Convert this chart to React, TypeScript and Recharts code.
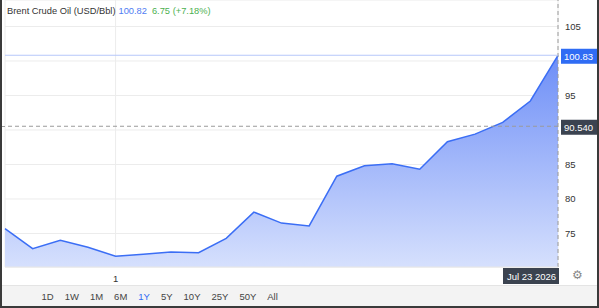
import { AreaChart, Area, XAxis, YAxis, CartesianGrid, ReferenceLine } from 'recharts';

// roughly two-week spacing, last point is the quote date
const dates = [
  'Nov 12 2025', 'Nov 25 2025', 'Dec 7 2025', 'Dec 20 2025', 'Jan 1 2026',
  'Jan 14 2026', 'Jan 27 2026', 'Feb 8 2026', 'Feb 21 2026', 'Mar 6 2026',
  'Mar 19 2026', 'Mar 31 2026', 'Apr 13 2026', 'Apr 26 2026', 'May 8 2026',
  'May 21 2026', 'Jun 3 2026', 'Jun 15 2026', 'Jun 28 2026', 'Jul 11 2026',
  'Jul 23 2026',
];
const prices = [
  75.7, 72.8, 74.0, 73.0, 71.7, 72.0, 72.3, 72.2, 74.3, 78.1,
  76.5, 76.1, 83.3, 84.8, 85.1, 84.3, 88.3, 89.4, 91.1, 94.2,
  100.83,
];
const yTicks = [75, 80, 85, 90, 95, 100, 105];
const xTicks = ['Jan 1 2026'];
const ranges = ['1D', '1W', '1M', '6M', '1Y', '5Y', '10Y', '25Y', '50Y', 'All'];
const activeRange = '1Y';

const title = 'Brent Crude Oil (USD/Bbl)';
const quote = 100.82;
const change = 6.75;
const changePct = 7.18;
const lastPrice = 100.83;
const prevClose = 90.54;
const lastDate = 'Jul 23 2026';

const data = dates.map((d, i) => ({ date: d, price: prices[i] }));

const FONT = '"Liberation Sans", Arial, sans-serif';

// tick labels sitting under a price badge are hidden, like the original widget
function YTick({ x, y, payload }: any) {
  const v = payload.value;
  if (Math.abs(v - lastPrice) < 3 || Math.abs(v - prevClose) < 3) return null;
  return (
    <text x={x} y={y + 3.5} fontSize={9.5} fill="#333" fontFamily={FONT} textAnchor="start">
      {v}
    </text>
  );
}

function PriceBadge({ viewBox, text, fill }: any) {
  const { x, y, width } = viewBox;
  return (
    <g>
      <rect x={x + width + 3} y={y - 6.5} width={37} height={15} fill={fill} />
      <text x={x + width + 6} y={y + 4.5} fill="#fff" fontSize={9.5} fontFamily={FONT}>
        {text}
      </text>
    </g>
  );
}

function DateBadge({ viewBox, text }: any) {
  const { x, y, height } = viewBox;
  return (
    <g>
      <rect x={x - 55} y={y + height + 1} width={56} height={16} fill="#3b4350" />
      <text x={x - 51} y={y + height + 12.5} fill="#fff" fontSize={9.5} fontFamily={FONT}>
        {text}
      </text>
    </g>
  );
}

export default function App() {
  return (
    <div style={{ position: 'absolute', left: 0, top: 0, width: 599, height: 308, background: '#fff', fontFamily: FONT }}>
      <AreaChart width={599} height={308} data={data} margin={{ top: 0, right: 0, bottom: 0, left: 5 }}>
        <defs>
          <linearGradient id="brentFill" x1="0" y1="0" x2="0" y2="1">
            <stop offset="0%" stopColor="#6d8ef7" />
            <stop offset="100%" stopColor="#d6e0fd" />
          </linearGradient>
        </defs>
        <CartesianGrid stroke="#ececec" strokeWidth={1} />
        <XAxis
          dataKey="date"
          ticks={xTicks}
          tickFormatter={() => '1'}
          height={41}
          tickLine={false}
          axisLine={{ stroke: '#e6e6e6' }}
          tick={{ fontSize: 9.5, fill: '#333', fontFamily: FONT }}
        />
        <YAxis
          orientation="right"
          width={41}
          domain={[70.14, 108.84]}
          allowDataOverflow
          ticks={yTicks}
          axisLine={false}
          tickLine={false}
          tickMargin={1}
          tick={<YTick />}
        />
        <Area
          type="linear"
          dataKey="price"
          stroke="#3b6ef5"
          strokeWidth={1.5}
          fill="url(#brentFill)"
          fillOpacity={1}
          dot={false}
          activeDot={false}
          isAnimationActive={false}
        />
        <ReferenceLine
          x={lastDate}
          stroke="#9a9a9a"
          strokeDasharray="4 3"
          label={(p: any) => <DateBadge {...p} text={lastDate} />}
        />
        <ReferenceLine
          y={lastPrice}
          stroke="#b7c7fa"
          strokeWidth={1}
          label={(p: any) => <PriceBadge {...p} text={lastPrice.toFixed(2)} fill="#2f6cf4" />}
        />
        <ReferenceLine
          y={prevClose}
          stroke="#9a9a9a"
          strokeDasharray="4 3"
          label={(p: any) => <PriceBadge {...p} text={prevClose.toFixed(3)} fill="#3b4350" />}
        />
      </AreaChart>

      {/* the close line runs on to the frame edge, left of the plot */}
      <div style={{ position: 'absolute', left: 0, top: 125.5, width: 5, height: 0, borderTop: '1px dashed #9a9a9a' }} />

      <div style={{ position: 'absolute', left: 7, top: 5, fontSize: 9.3, whiteSpace: 'nowrap', lineHeight: '12px' }}>
        <span style={{ color: '#333' }}>{title}</span>
        <span style={{ color: '#4f7cf3', marginLeft: 3 }}>{quote.toFixed(2)}</span>
        <span style={{ color: '#4cb050', marginLeft: 5 }}>
          {change.toFixed(2)} (+{changePct.toFixed(2)}%)
        </span>
      </div>

      <div style={{ position: 'absolute', left: 572, top: 268, fontSize: 12, color: '#888', fontFamily: '"DejaVu Sans"' }}>⚙</div>

      <div
        style={{
          position: 'absolute', left: 0, top: 285, width: 599, height: 23,
          background: '#f3f3f3', borderTop: '1px solid #e4e4e4', boxSizing: 'border-box',
          display: 'flex', alignItems: 'center', paddingLeft: 36,
        }}
      >
        {ranges.map((r) => (
          <div
            key={r}
            style={{
              position: 'relative', padding: '0 5.5px', fontSize: 9.5, lineHeight: '20px',
              color: r === activeRange ? '#2f6cf4' : '#444',
            }}
          >
            {r}
            {r === activeRange && (
              <div style={{ position: 'absolute', left: 0, right: 0, bottom: -1, height: 2, background: '#2f6cf4' }} />
            )}
          </div>
        ))}
      </div>

      <div style={{ position: 'absolute', left: 0, top: 0, width: 2, height: 308, background: '#3a3a3a' }} />
      <div style={{ position: 'absolute', right: 0, top: 0, width: 2, height: 308, background: '#3a3a3a' }} />
      <div style={{ position: 'absolute', left: 0, bottom: 0, width: 599, height: 2, background: '#3a3a3a' }} />
    </div>
  );
}
